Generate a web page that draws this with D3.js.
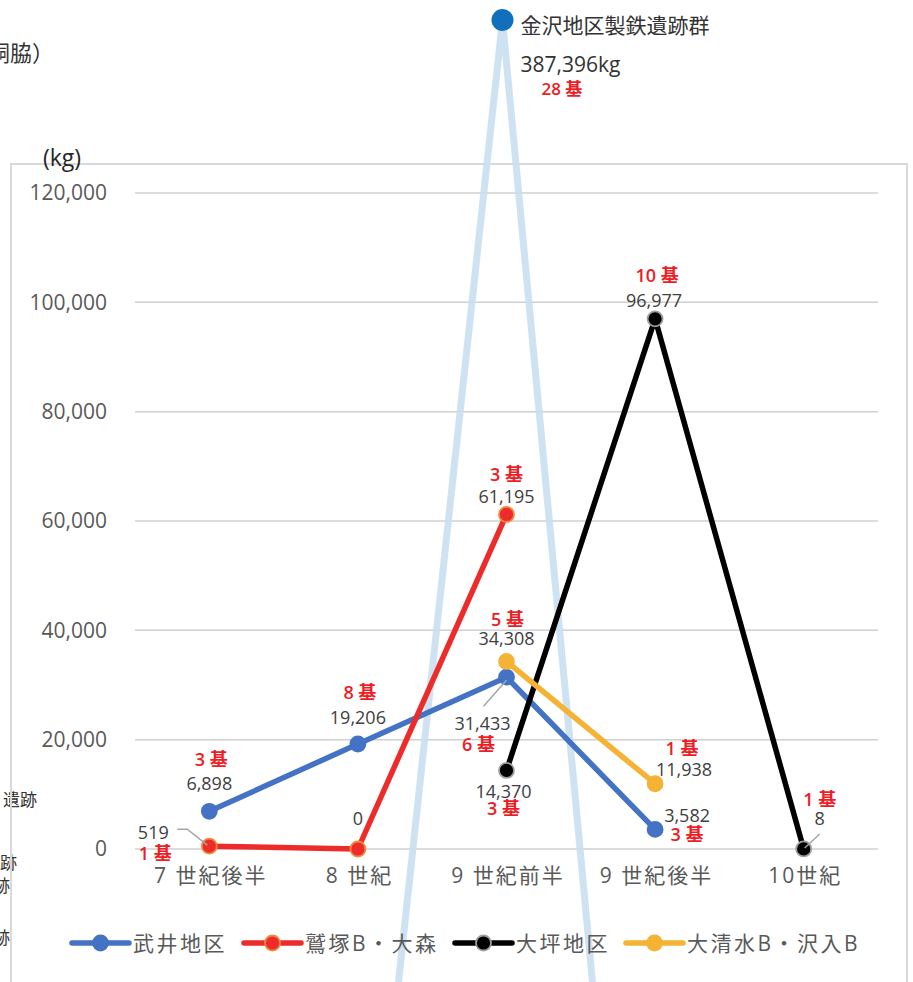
<!DOCTYPE html>
<html>
<head>
<meta charset="utf-8">
<script src="https://cdn.jsdelivr.net/npm/d3@7"></script>
<style>
  html, body { margin: 0; padding: 0; background: #fff; }
  svg { display: block; font-family: "Open Sans", "Noto Sans CJK JP", sans-serif; }
</style>
</head>
<body>
<svg id="chart" width="913" height="982"></svg>
<script>
// Periods on the x axis
const categories = ["7 世紀後半", "8 世紀", "9 世紀前半", "9 世紀後半", "10世紀"];
const yTicks = [0, 20000, 40000, 60000, 80000, 100000, 120000];

// Iron slag weight (kg) per district; null = no site in that period
const takei    = [6898, 19206, 31433, 3582, null];
const washizuka = [519, 0, 61195, null, null];
const otsubo   = [null, null, 14370, 96977, 8];
const oshimizu = [null, null, 34308, 11938, null];

// Number of furnaces (基) per point
const takeiKi    = [3, 8, 6, 3, null];
const washizukaKi = [1, null, 3, null, null];
const otsuboKi   = [null, null, 3, 10, 1];
const oshimizuKi = [null, null, 5, 1, null];

// Kanazawa district total, shown as an off-scale spike
const kanazawaName = "金沢地区製鉄遺跡群";
const kanazawaValue = 387396;
const kanazawaKi = 28;

const seriesNames = ["武井地区", "鷲塚B・大森", "大坪地区", "大清水B・沢入B"];

const series = [
  { name: seriesNames[0], values: takei, ki: takeiKi, color: "#4472C4", stroke: "#4472C4" },
  { name: seriesNames[1], values: washizuka, ki: washizukaKi, color: "#EE2B2B", stroke: "#F08A3C" },
  { name: seriesNames[2], values: otsubo, ki: otsuboKi, color: "#000000", stroke: "#9E9E9E" },
  { name: seriesNames[3], values: oshimizu, ki: oshimizuKi, color: "#F5B335", stroke: "#F5B335" }
];

// Label placement per series/point: offsets from the marker (value label, 基 label) and optional leader
const placement = [
  [ {vx:0,vy:-28,kx:2,ky:-52}, {vx:0,vy:-27,kx:2,ky:-52}, {vx:-24,vy:46,kx:-28,ky:67,leader:[[-23,29],[0,3]]}, {vx:32,vy:-14,kx:32,ky:5}, null ],
  [ {vx:-56,vy:-14,kx:-54,ky:7,leader:[[-32,-17],[-22,-17],[-2,-1]]}, {vx:0,vy:-31,kx:0,ky:0,noKi:true}, {vx:0,vy:-18,kx:0,ky:-40}, null, null ],
  [ null, null, {vx:-3,vy:21,kx:-3,ky:38}, {vx:-1,vy:-19,kx:2,ky:-44}, {vx:16,vy:-31,kx:16,ky:-50,leader:[[16,-15],[1,-1]]} ],
  [ null, null, {vx:0,vy:-23,kx:1,ky:-42}, {vx:29,vy:-15,kx:27,ky:-36}, null ]
];

const svg = d3.select("#chart");

const x = d3.scalePoint().domain(categories).range([135, 878]).padding(0.5);
const y = d3.scaleLinear().domain([0, 120000]).range([849, 193]);

// Cropped neighbouring text at the left edge
const edge = svg.append("g").attr("fill", "#333");
edge.append("text").attr("x", 54).attr("y", 61).attr("text-anchor", "end").attr("font-size", 22).text("（胴脇）");
edge.append("text").attr("x", 37).attr("y", 806).attr("text-anchor", "end").attr("font-size", 17).text("遺跡");
edge.append("text").attr("x", 17).attr("y", 869).attr("text-anchor", "end").attr("font-size", 17).text("遺跡");
edge.append("text").attr("x", 10).attr("y", 892).attr("text-anchor", "end").attr("font-size", 17).text("遺跡");
edge.append("text").attr("x", 4).attr("y", 907).attr("text-anchor", "end").attr("font-size", 11).text("）");
edge.append("text").attr("x", 10).attr("y", 944).attr("text-anchor", "end").attr("font-size", 17).text("遺跡");

// Chart frame
svg.append("path")
  .attr("d", "M11,982 V164 H907 V982")
  .attr("fill", "none").attr("stroke", "#D9D9D9").attr("stroke-width", 2);

// Gridlines
svg.append("g").selectAll("line").data(yTicks).join("line")
  .attr("x1", 135).attr("x2", 878)
  .attr("y1", d => y(d)).attr("y2", d => y(d))
  .attr("stroke", "#D0D0D0").attr("stroke-width", 1.5);

// Y axis labels
const yAxis = d3.axisLeft(y).tickValues(yTicks).tickFormat(d3.format(",")).tickSize(0).tickPadding(0);
const yg = svg.append("g").attr("transform", "translate(107,0)").call(yAxis);
yg.select(".domain").remove();
yg.selectAll("text").attr("font-size", 21).attr("fill", "#595959")
  .attr("font-family", "\"Open Sans\", \"Noto Sans CJK JP\", sans-serif");

// Unit label
svg.append("text").attr("x", 43).attr("y", 166).attr("font-size", 23).attr("fill", "#262626").text("(kg)");

// X axis labels
const xAxis = d3.axisBottom(x).tickSize(0).tickPadding(0);
const xg = svg.append("g").attr("transform", "translate(1,868)").call(xAxis);
xg.select(".domain").remove();
xg.selectAll("text").attr("font-size", 21).attr("fill", "#595959").attr("dy", "0.71em")
  .attr("letter-spacing", 2)
  .attr("font-family", "\"Open Sans\", \"Noto Sans CJK JP\", sans-serif");

// Off-scale spike for the Kanazawa district
const apexX = x(categories[2]) - 4, apexY = 20;
const spike = svg.append("g");
spike.append("path")
  .attr("d", d3.line()([[apexX - 104, 982], [apexX, apexY], [apexX + 90, 982]]))
  .attr("fill", "none").attr("stroke", "#C9DFF0").attr("stroke-width", 7)
  .attr("stroke-linejoin", "miter").attr("opacity", 0.9);
spike.append("circle").attr("cx", apexX).attr("cy", apexY).attr("r", 11).attr("fill", "#1170BE");
spike.append("text").attr("x", apexX + 18).attr("y", apexY + 13).attr("font-size", 21).attr("fill", "#333").text(kanazawaName);
spike.append("text").attr("x", apexX + 18).attr("y", apexY + 52).attr("font-size", 21).attr("fill", "#333")
  .text(d3.format(",")(kanazawaValue) + "kg");
spike.append("text").attr("x", apexX + 39).attr("y", apexY + 75).attr("font-size", 17).attr("font-weight", 600)
  .attr("fill", "#EE1C25").text(kanazawaKi + " 基");

// Series lines
const line = d3.line()
  .defined(d => d.v !== null)
  .x(d => x(d.c)).y(d => y(d.v));

series.forEach(s => {
  const pts = categories.map((c, i) => ({ c, v: s.values[i] }));
  svg.append("path").datum(pts)
    .attr("d", line).attr("fill", "none")
    .attr("stroke", s.color).attr("stroke-width", 5.5)
    .attr("stroke-linejoin", "round").attr("stroke-linecap", "round");
});

// Markers
series.forEach(s => {
  const pts = categories.map((c, i) => ({ c, v: s.values[i] })).filter(d => d.v !== null);
  svg.append("g").selectAll("circle").data(pts).join("circle")
    .attr("cx", d => x(d.c)).attr("cy", d => y(d.v)).attr("r", 7.5)
    .attr("fill", s.color).attr("stroke", s.stroke).attr("stroke-width", 1.8);
});

// Data labels
const fmt = d3.format(",");
series.forEach((s, si) => {
  categories.forEach((c, i) => {
    const v = s.values[i];
    const p = placement[si][i];
    if (v === null || !p) return;
    const px = x(c), py = y(v);
    if (p.leader) {
      svg.append("path")
        .attr("d", d3.line()(p.leader.map(q => [px + q[0], py + q[1]])))
        .attr("fill", "none").attr("stroke", "#A6A6A6").attr("stroke-width", 1.5);
    }
    svg.append("text").attr("x", px + p.vx).attr("y", py + p.vy)
      .attr("text-anchor", "middle").attr("dominant-baseline", "central")
      .attr("font-size", 18).attr("fill", "#404040").text(fmt(v));
    if (s.ki[i] !== null && !p.noKi) {
      svg.append("text").attr("x", px + p.kx).attr("y", py + p.ky)
        .attr("text-anchor", "middle").attr("dominant-baseline", "central")
        .attr("font-size", 18).attr("font-weight", 600).attr("fill", "#EE1C25").text(s.ki[i] + " 基");
    }
  });
});

// Legend
const legendX = [72, 244, 455, 626];
const lg = svg.append("g").attr("transform", "translate(0,943)");
series.forEach((s, i) => {
  const g = lg.append("g").attr("transform", `translate(${legendX[i]},0)`);
  g.append("line").attr("x1", 0).attr("x2", 57).attr("y1", 0).attr("y2", 0)
    .attr("stroke", s.color).attr("stroke-width", 5.5).attr("stroke-linecap", "round");
  g.append("circle").attr("cx", 28.5).attr("cy", 0).attr("r", 7.5)
    .attr("fill", s.color).attr("stroke", s.stroke).attr("stroke-width", 1.8);
  g.append("text").attr("x", 61).attr("y", 0).attr("dominant-baseline", "central")
    .attr("font-size", 21).attr("letter-spacing", 2.5).attr("fill", "#595959").text(s.name);
});
</script>
</body>
</html>
